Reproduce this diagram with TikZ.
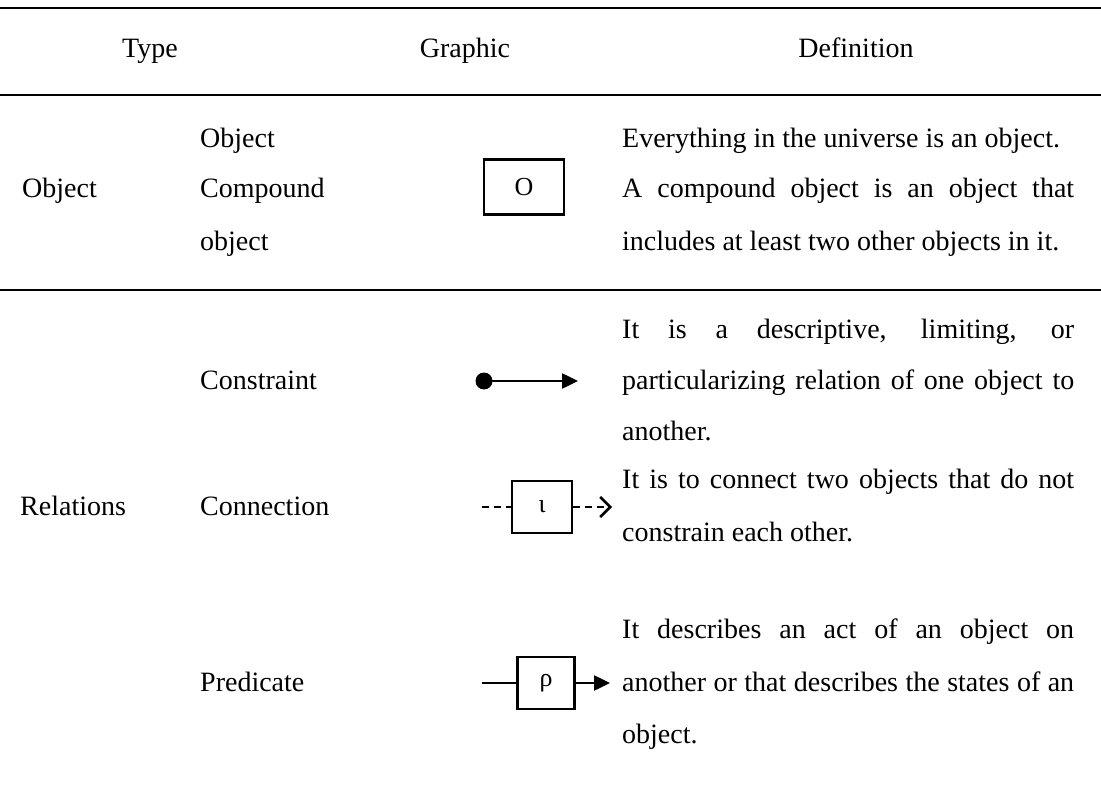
\documentclass[tikz,border=0pt]{standalone}
\usepackage{fontspec}
\setmainfont{Liberation Serif}
\usetikzlibrary{arrows.meta}
% a line of text spread to the full definition column width
\newcommand{\jline}[1]{\makebox[452pt][s]{#1}}
\begin{document}
\begin{tikzpicture}[x=1pt,y=-1pt,
  body/.style={anchor=base west, inner sep=0pt, font=\fontsize{28}{34}\selectfont},
  head/.style={anchor=base, inner sep=0pt, font=\fontsize{28}{34}\selectfont},
  heavyrule/.style={line width=2.6pt},
  lightrule/.style={line width=1.8pt},
  symbox/.style={draw, line width=2.6pt, minimum height=52pt, inner sep=0pt,
                 font=\fontsize{26}{30}\selectfont},
  link/.style={line width=2.5pt},
  dashlink/.style={line width=2.5pt, dash pattern=on 7pt off 5pt},
  solidtip/.style={-{Triangle[length=16pt,width=15pt]}},
  opentip/.style={-{Straight Barb[length=10pt,width=20pt,line width=2.5pt]}}
]
\useasboundingbox (0,0) rectangle (1101,805);

% table rules
\draw[heavyrule] (0,8) -- (1101,8);
\draw[heavyrule] (0,95) -- (1101,95);
\draw[lightrule] (0,290) -- (1101,290);

% header row
\node[head] (hType) at (150,58) {Type};
\node[head] (hGraphic) at (465,58) {Graphic};
\node[head] (hDef) at (856,58) {Definition};

% --- Object group ---
\node[body] (tObject) at (22,198) {Object};
\node[body] (sObject) at (200,148) {Object};
\node[body] (sCompound) at (200,198) {Compound};
\node[body] (sCompound2) at (200,251) {object};

\node[symbox, minimum width=80pt, minimum height=55pt] (boxO) at (524,187) {O};

\node[body] (dO1) at (622,148) {Everything in the universe is an object.};
\node[body] (dO2) at (622,198) {\jline{A compound object is an object that}};
\node[body] (dO3) at (622,251) {includes at least two other objects in it.};

% --- Relations group ---
\node[body] (tRel) at (20,515) {Relations};

% constraint
\node[body] (sConstraint) at (200,389) {Constraint};
\node[circle, fill, minimum size=17pt, inner sep=0pt] (cdot) at (484,381) {};
\coordinate (cend) at (578,381);
\draw[link, solidtip] (cdot.center) -- (cend);
\node[body] (dC1) at (622,338) {\jline{It is a descriptive, limiting, or}};
\node[body] (dC2) at (622,389) {\jline{particularizing relation of one object to}};
\node[body] (dC3) at (622,440) {another.};

% connection
\node[body] (sConnection) at (200,515) {Connection};
\node[symbox, minimum width=60pt] (boxI) at (542,507) {ι};
\coordinate (nstart) at (482,507);
\coordinate (nend) at (612,507);
\draw[dashlink] (nstart) -- (boxI.west);
\draw[dashlink, opentip] (boxI.east) -- (nend);
\node[body] (dN1) at (622,488) {\jline{It is to connect two objects that do not}};
\node[body] (dN2) at (622,541) {constrain each other.};

% predicate
\node[body] (sPredicate) at (200,691) {Predicate};
\node[symbox, minimum width=57pt] (boxR) at (546,683) {ρ};
\coordinate (pstart) at (482,683);
\coordinate (pend) at (610,683);
\draw[link] (pstart) -- (boxR.west);
\draw[link, solidtip] (boxR.east) -- (pend);
\node[body] (dP1) at (622,638) {\jline{It describes an act of an object on}};
\node[body] (dP2) at (622,691) {\jline{another or that describes the states of an}};
\node[body] (dP3) at (622,743) {object.};
\end{tikzpicture}
\end{document}
